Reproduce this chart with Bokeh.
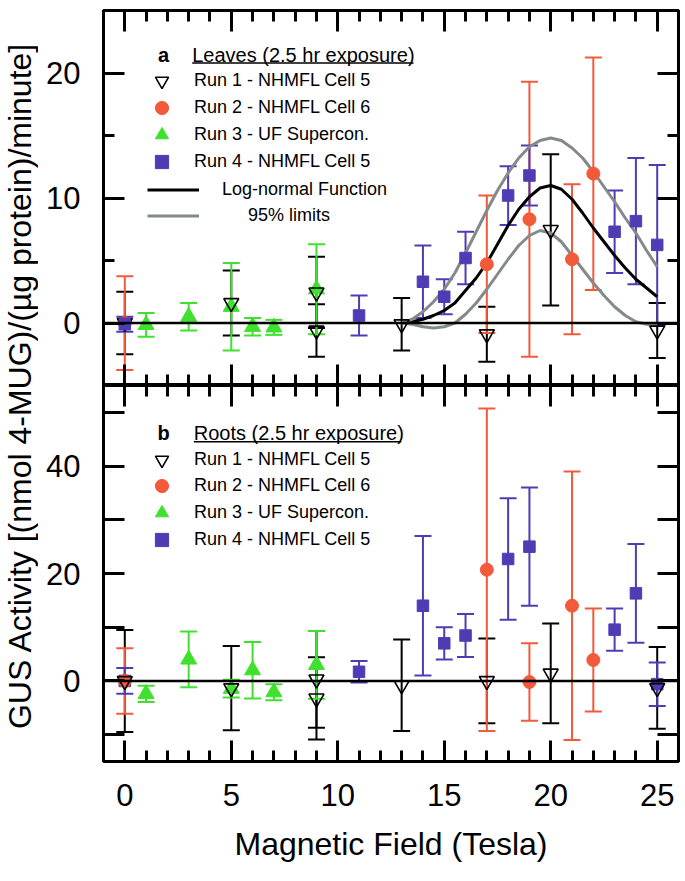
import math
from bokeh.plotting import figure
from bokeh.models import (Range1d, FixedTicker, LinearAxis, Whisker, TeeHead, ColumnDataSource,
                          Span, Legend, LegendItem, Label, BoxAnnotation)
from bokeh.layouts import row, column
from bokeh.embed import file_html
from bokeh.resources import INLINE

# ---------------- data ----------------
x_ticks = [0, 5, 10, 15, 20, 25]

# Leaves (panel a)
run1_a_x = [0, 5, 9, 9, 13, 17, 20, 25]
run1_a_y = [0.0, 1.6, 2.45, -0.6, -0.1, -0.9, 7.45, -0.6]
run1_a_err = [2.5, 2.6, 2.85, 2.1, 2.1, 2.2, 6.05, 2.2]

run2_a_x = [0, 17, 19, 21, 22]
run2_a_y = [0.0, 4.7, 8.3, 5.1, 11.95]
run2_a_err = [3.75, 5.5, 11.0, 6.0, 9.3]

run3_a_x = [1, 3, 5, 6, 7, 9]
run3_a_y = [-0.15, 0.5, 1.3, -0.3, -0.35, 2.7]
run3_a_err = [0.95, 1.1, 3.5, 0.7, 0.6, 3.6]

run4_a_x = [0, 11, 14, 15, 16, 18, 19, 23, 24, 25]
run4_a_y = [-0.1, 0.6, 3.3, 2.1, 5.2, 10.2, 11.8, 7.3, 8.15, 6.25]
run4_a_err = [0.6, 1.6, 2.9, 1.4, 2.1, 2.35, 2.4, 3.3, 5.05, 6.4]

# log-normal fit and 95% limits
curve_x = [13, 13.5, 14, 14.5, 15, 15.5, 16, 16.5, 17, 17.5, 18, 18.5, 19,
           19.5, 20, 20.5, 21, 21.5, 22, 22.5, 23, 23.5, 24, 24.5, 25]
fit_y = [0.0, 0.1, 0.3, 0.6, 1.0, 1.6, 2.6, 3.6, 4.8, 6.3, 7.8, 9.1, 10.1,
         10.8, 11.0, 10.7, 9.9, 8.8, 7.6, 6.5, 5.4, 4.4, 3.5, 2.8, 2.1]
upper_y = [0.0, 0.3, 0.9, 1.7, 2.7, 4.0, 5.6, 7.3, 9.0, 10.6, 12.0, 13.2, 14.1,
           14.6, 14.8, 14.6, 14.0, 13.2, 12.1, 10.9, 9.7, 8.4, 7.2, 5.8, 4.5]
lower_y = [0.0, -0.1, -0.3, -0.4, -0.3, 0.0, 0.7, 1.6, 2.7, 3.9, 5.1, 6.2, 7.0,
           7.4, 7.2, 6.5, 5.4, 4.3, 3.2, 2.2, 1.3, 0.6, 0.1, -0.1, -0.2]

# Roots (panel b)
run1_b_x = [0, 5, 9, 9, 13, 17, 20, 25]
run1_b_y = [0.0, -1.35, 0.3, -3.25, -0.8, 0.0, 1.4, -1.3]
run1_b_err = [9.5, 7.85, 9.0, 7.65, 8.5, 7.9, 9.3, 7.6]

run2_b_x = [0, 17, 19, 21, 22]
run2_b_y = [0.0, 20.7, -0.2, 14.0, 3.9]
run2_b_err = [6.1, 30.0, 7.2, 25.0, 9.6]

run3_b_x = [1, 3, 5, 6, 7, 9]
run3_b_y = [-2.4, 4.0, -1.45, 2.0, -2.1, 3.0]
run3_b_err = [1.5, 5.2, 1.65, 5.25, 1.5, 6.3]

run4_b_x = [0, 11, 14, 15, 16, 18, 19, 23, 24, 25]
run4_b_y = [0.0, 1.7, 14.0, 7.0, 8.45, 22.7, 25.0, 9.55, 16.3, -0.6]
run4_b_err = [2.4, 2.0, 13.0, 3.0, 4.0, 11.3, 11.0, 3.95, 9.2, 4.05]

run_labels = ["Run 1 - NHMFL Cell 5", "Run 2 - NHMFL Cell 6",
              "Run 3 - UF Supercon.", "Run 4 - NHMFL Cell 5"]

# ---------------- style ----------------
FONT = "Liberation Sans"
RED = "#F25A3A"
GREEN = "#3FE02E"
BLUE = "#4F3CB4"
GRAY = "#838A8A"
TICK_FS = "31px"

W_MAIN = 643
LEFT = 65
TOP_H = 385
BOT_H = 494
FRAME_B = 376  # bottom panel frame height


def add_axis(p, side, ticker, labels=False, major_in=21, minor_in=11, standoff=22):
    ax = LinearAxis(ticker=ticker)
    ax.major_tick_in = major_in
    ax.major_tick_out = 0
    ax.minor_tick_in = minor_in
    ax.minor_tick_out = 0
    ax.major_tick_line_width = 3
    ax.minor_tick_line_width = 3
    ax.major_tick_line_color = "black"
    ax.minor_tick_line_color = "black"
    ax.axis_line_color = None
    if labels:
        ax.major_label_text_font = FONT
        ax.major_label_text_font_size = TICK_FS
        ax.major_label_text_color = "black"
        ax.major_label_standoff = standoff
    else:
        ax.major_label_text_font_size = "0px"
        ax.major_label_standoff = 0
        ax.major_label_overrides = {t: "" for t in ticker.ticks}
    p.add_layout(ax, side)
    return ax


def make_panel(height, top, bottom, yr):
    p = figure(width=W_MAIN, height=height, x_range=Range1d(-1, 26), y_range=Range1d(*yr),
               output_backend="svg", toolbar_location=None,
               x_axis_location=None, y_axis_location=None,
               min_border_left=LEFT, min_border_right=3, min_border_top=top,
               min_border_bottom=bottom)
    p.grid.visible = False
    p.outline_line_color = "black"
    p.outline_line_width = 3
    p.background_fill_color = "white"
    p.border_fill_color = "white"
    return p


def xticker():
    return FixedTicker(ticks=x_ticks, minor_ticks=list(range(-1, 27)))


def add_runs(p, data, order):
    colors = ["black", RED, GREEN, BLUE]
    renderers = {}
    for i, (xs, ys, es) in enumerate(data):
        c = colors[i]
        src = ColumnDataSource(dict(x=xs, upper=[y + e for y, e in zip(ys, es)],
                                    lower=[y - e for y, e in zip(ys, es)]))
        w = Whisker(source=src, base="x", upper="upper", lower="lower", dimension="height",
                    line_color=c, line_width=2,
                    upper_head=TeeHead(size=17, line_color=c, line_width=2),
                    lower_head=TeeHead(size=17, line_color=c, line_width=2))
        p.add_layout(w)
    for i in order:
        xs, ys, es = data[i]
        if i == 0:
            r = p.scatter(xs, ys, marker="inverted_triangle", size=15, line_color="black",
                          fill_color=None, line_width=1.6)
        elif i == 1:
            r = p.scatter(xs, ys, marker="circle", size=13, line_color=RED, fill_color=RED)
        elif i == 2:
            r = p.scatter(xs, ys, marker="triangle", size=16, line_color=GREEN, fill_color=GREEN)
        else:
            r = p.scatter(xs, ys, marker="square", size=11.5, line_color=BLUE, fill_color=BLUE)
        renderers[i] = r
    return [renderers[i] for i in range(4)]


def legend_entry(p, label, renderer, frame_bottom, center_y, x, gw, gh, standoff):
    leg = Legend(items=[LegendItem(label=label, renderers=[renderer])],
                 location=(x, frame_bottom - (center_y + gh / 2)),
                 glyph_width=gw, glyph_height=gh, label_height=gh, spacing=0,
                 label_standoff=standoff, padding=0, margin=0,
                 border_line_color=None, background_fill_alpha=0,
                 label_text_font=FONT, label_text_font_size="18px", label_text_color="black")
    p.add_layout(leg)


def header(p, letter, text, y, left, underline_right):
    p.add_layout(Label(x=60, y=y, x_units="screen", y_units="screen", text=letter,
                       text_font=FONT, text_font_size="20px", text_font_style="bold",
                       text_align="center", text_baseline="middle", text_color="black"))
    p.add_layout(Label(x=left, y=y, x_units="screen", y_units="screen", text=text,
                       text_font=FONT, text_font_size="20px",
                       text_align="left", text_baseline="middle", text_color="black"))
    p.add_layout(BoxAnnotation(left=left, right=underline_right, top=y - 7.8, bottom=y - 9.3,
                               left_units="screen", right_units="screen",
                               top_units="screen", bottom_units="screen",
                               fill_color="black", fill_alpha=1, line_color=None))


# ---------------- top panel (leaves) ----------------
pa = make_panel(TOP_H, 10, 0, (-5, 25))
add_axis(pa, "above", xticker())
add_axis(pa, "below", xticker())
add_axis(pa, "left", FixedTicker(ticks=[0, 10, 20], minor_ticks=[-5, 5, 15, 25]),
         labels=True, standoff=23)
add_axis(pa, "right", FixedTicker(ticks=[0, 10, 20], minor_ticks=[-5, 5, 15, 25]))

fit_r = pa.line(curve_x, fit_y, line_color="black", line_width=3)
up_r = pa.line(curve_x, upper_y, line_color=GRAY, line_width=3)
pa.line(curve_x, lower_y, line_color=GRAY, line_width=3)

ra = add_runs(pa, [(run1_a_x, run1_a_y, run1_a_err), (run2_a_x, run2_a_y, run2_a_err),
                   (run3_a_x, run3_a_y, run3_a_err), (run4_a_x, run4_a_y, run4_a_err)],
              [1, 2, 0, 3])
pa.add_layout(Span(location=0, dimension="width", line_color="black", line_width=2.5))

FB_A = TOP_H - 10  # frame height of top panel
for i, cy in enumerate([80, 107.3, 134.5, 161.5]):
    legend_entry(pa, run_labels[i], ra[i], FB_A, cy - 10, 42, 33, 33, 16)
legend_entry(pa, "Log-normal Function", fit_r, FB_A, 189 - 10, 44, 52, 27, 23)
legend_entry(pa, "95% limits", up_r, FB_A, 215.5 - 10, 44, 52, 27, 49)
header(pa, "a", "Leaves (2.5 hr exposure)", FB_A - (54 - 10), 88.7, 310)

# ---------------- bottom panel (roots) ----------------
pb = make_panel(BOT_H, 0, BOT_H - FRAME_B, (-15, 55))
add_axis(pb, "above", xticker())
xb = add_axis(pb, "below", xticker(), labels=True, standoff=22)
xb.axis_label = "Magnetic Field (Tesla)"
xb.axis_label_text_font = FONT
xb.axis_label_text_font_size = "32px"
xb.axis_label_text_font_style = "normal"
xb.axis_label_text_color = "black"
xb.axis_label_standoff = 17
add_axis(pb, "left", FixedTicker(ticks=[0, 20, 40], minor_ticks=[-10, 10, 30, 50]),
         labels=True, minor_in=21, standoff=23)
add_axis(pb, "right", FixedTicker(ticks=[0, 20, 40], minor_ticks=[-10, 10, 30, 50]), minor_in=21)

rb = add_runs(pb, [(run1_b_x, run1_b_y, run1_b_err), (run2_b_x, run2_b_y, run2_b_err),
                   (run3_b_x, run3_b_y, run3_b_err), (run4_b_x, run4_b_y, run4_b_err)],
              [3, 2, 1, 0])
pb.add_layout(Span(location=0, dimension="width", line_color="black", line_width=2.5))

FB_B = FRAME_B
for i, cy in enumerate([459, 485.5, 512, 539]):
    legend_entry(pb, run_labels[i], rb[i], FB_B, cy - TOP_H, 42, 33, 33, 16)
header(pb, "b", "Roots (2.5 hr exposure)", FB_B - (432.7 - TOP_H), 90.3, 297.7)

# ---------------- shared y title ----------------
H_ALL = TOP_H + BOT_H
pl = figure(width=38, height=H_ALL, x_range=Range1d(0, 38), y_range=Range1d(0, H_ALL),
            output_backend="svg", toolbar_location=None,
            x_axis_location=None, y_axis_location=None, min_border=0)
pl.grid.visible = False
pl.outline_line_color = None
pl.add_layout(Label(x=19.5, y=H_ALL - 385, text="GUS Activity [(nmol 4-MUG)/(\u00b5g protein)/minute]",
                    angle=math.pi / 2, text_align="center", text_baseline="middle",
                    text_font=FONT, text_font_size="32px", text_color="black"))

layout = row(pl, column(pa, pb, spacing=0), spacing=0)
open("out.html", "w").write(file_html(layout, INLINE))
